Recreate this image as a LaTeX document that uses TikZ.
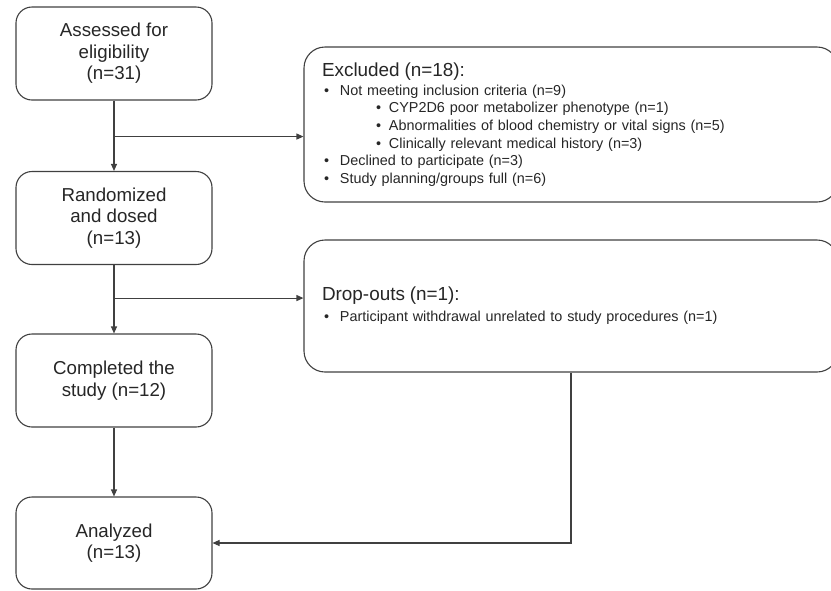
\documentclass[tikz,border=0pt]{standalone}
\usepackage{fontspec}
\setmainfont{Liberation Sans}
\usepackage{xcolor}
\usetikzlibrary{arrows.meta}

\definecolor{linegray}{HTML}{404040}
\definecolor{textgray}{HTML}{262626}

\newcommand{\lvlone}[1]{\hspace*{2pt}\makebox[16pt][l]{\textbullet}#1}
\newcommand{\lvltwo}[1]{\hspace*{54pt}\makebox[13pt][l]{\textbullet}#1}

\begin{document}
\begin{tikzpicture}[x=1pt, y=-1pt, >={Triangle[length=7pt,width=6pt]},
    stage/.style={draw=linegray, line width=1.1pt, rounded corners=16pt,
        minimum width=196pt, minimum height=93pt, align=center, text=textgray,
        font=\fontsize{18.7}{21.5}\selectfont},
    sidebox/.style={draw=linegray, line width=1.1pt, rounded corners=21pt,
        text width=498pt, inner xsep=18pt, inner ysep=0pt, align=left, text=textgray,
        font=\fontsize{14.4}{17.7}\selectfont},
    flow/.style={draw=linegray, line width=1.1pt}]
        \useasboundingbox (0,0) rectangle (831,590);
        % Stages
        \node[stage] (assessed) at (114,53.5) {Assessed for\\eligibility\\(n=31)};
        \node[stage] (randomized) at (114,218) {Randomized\\and dosed\\(n=13)};
        \node[stage] (completed) at (114,380.5) {Completed the\\study (n=12)};
        \node[stage, minimum height=92pt] (analyzed) at (114,543) {Analyzed\\(n=13)};
        % Side boxes
        \node[sidebox, minimum height=155pt] (excluded) at (571,124.5) {%
            {\fontsize{18.9}{20}\selectfont Excluded (n=18):}\\[1.3pt]
            \lvlone{Not meeting inclusion criteria (n=9)}\\
            \lvltwo{CYP2D6 poor metabolizer phenotype (n=1)}\\
            \lvltwo{Abnormalities of blood chemistry or vital signs (n=5)}\\
            \lvltwo{Clinically relevant medical history (n=3)}\\
            \lvlone{Declined to participate (n=3)}\\
            \lvlone{Study planning/groups full (n=6)}};
        \node[sidebox, minimum height=132pt] (dropouts) at (571,306) {%
            {\fontsize{18.9}{20}\selectfont Drop-outs (n=1):}\\[3.3pt]
            \lvlone{Participant withdrawal unrelated to study procedures (n=1)}};
        % Connectors
        \path (assessed.south) ++(0,36) coordinate (split1);
        \path (randomized.south) ++(0,33) coordinate (split2);
        \draw[flow,->] (assessed) -- (randomized);
        \draw[flow,->] (split1) -- (split1 -| excluded.west);
        \draw[flow,->] (randomized) -- (completed);
        \draw[flow,->] (split2) -- (split2 -| dropouts.west);
        \draw[flow,->] (completed) -- (analyzed);
        \draw[flow,->] (dropouts.south) |- (analyzed.east);
    \end{tikzpicture}
\end{document}
